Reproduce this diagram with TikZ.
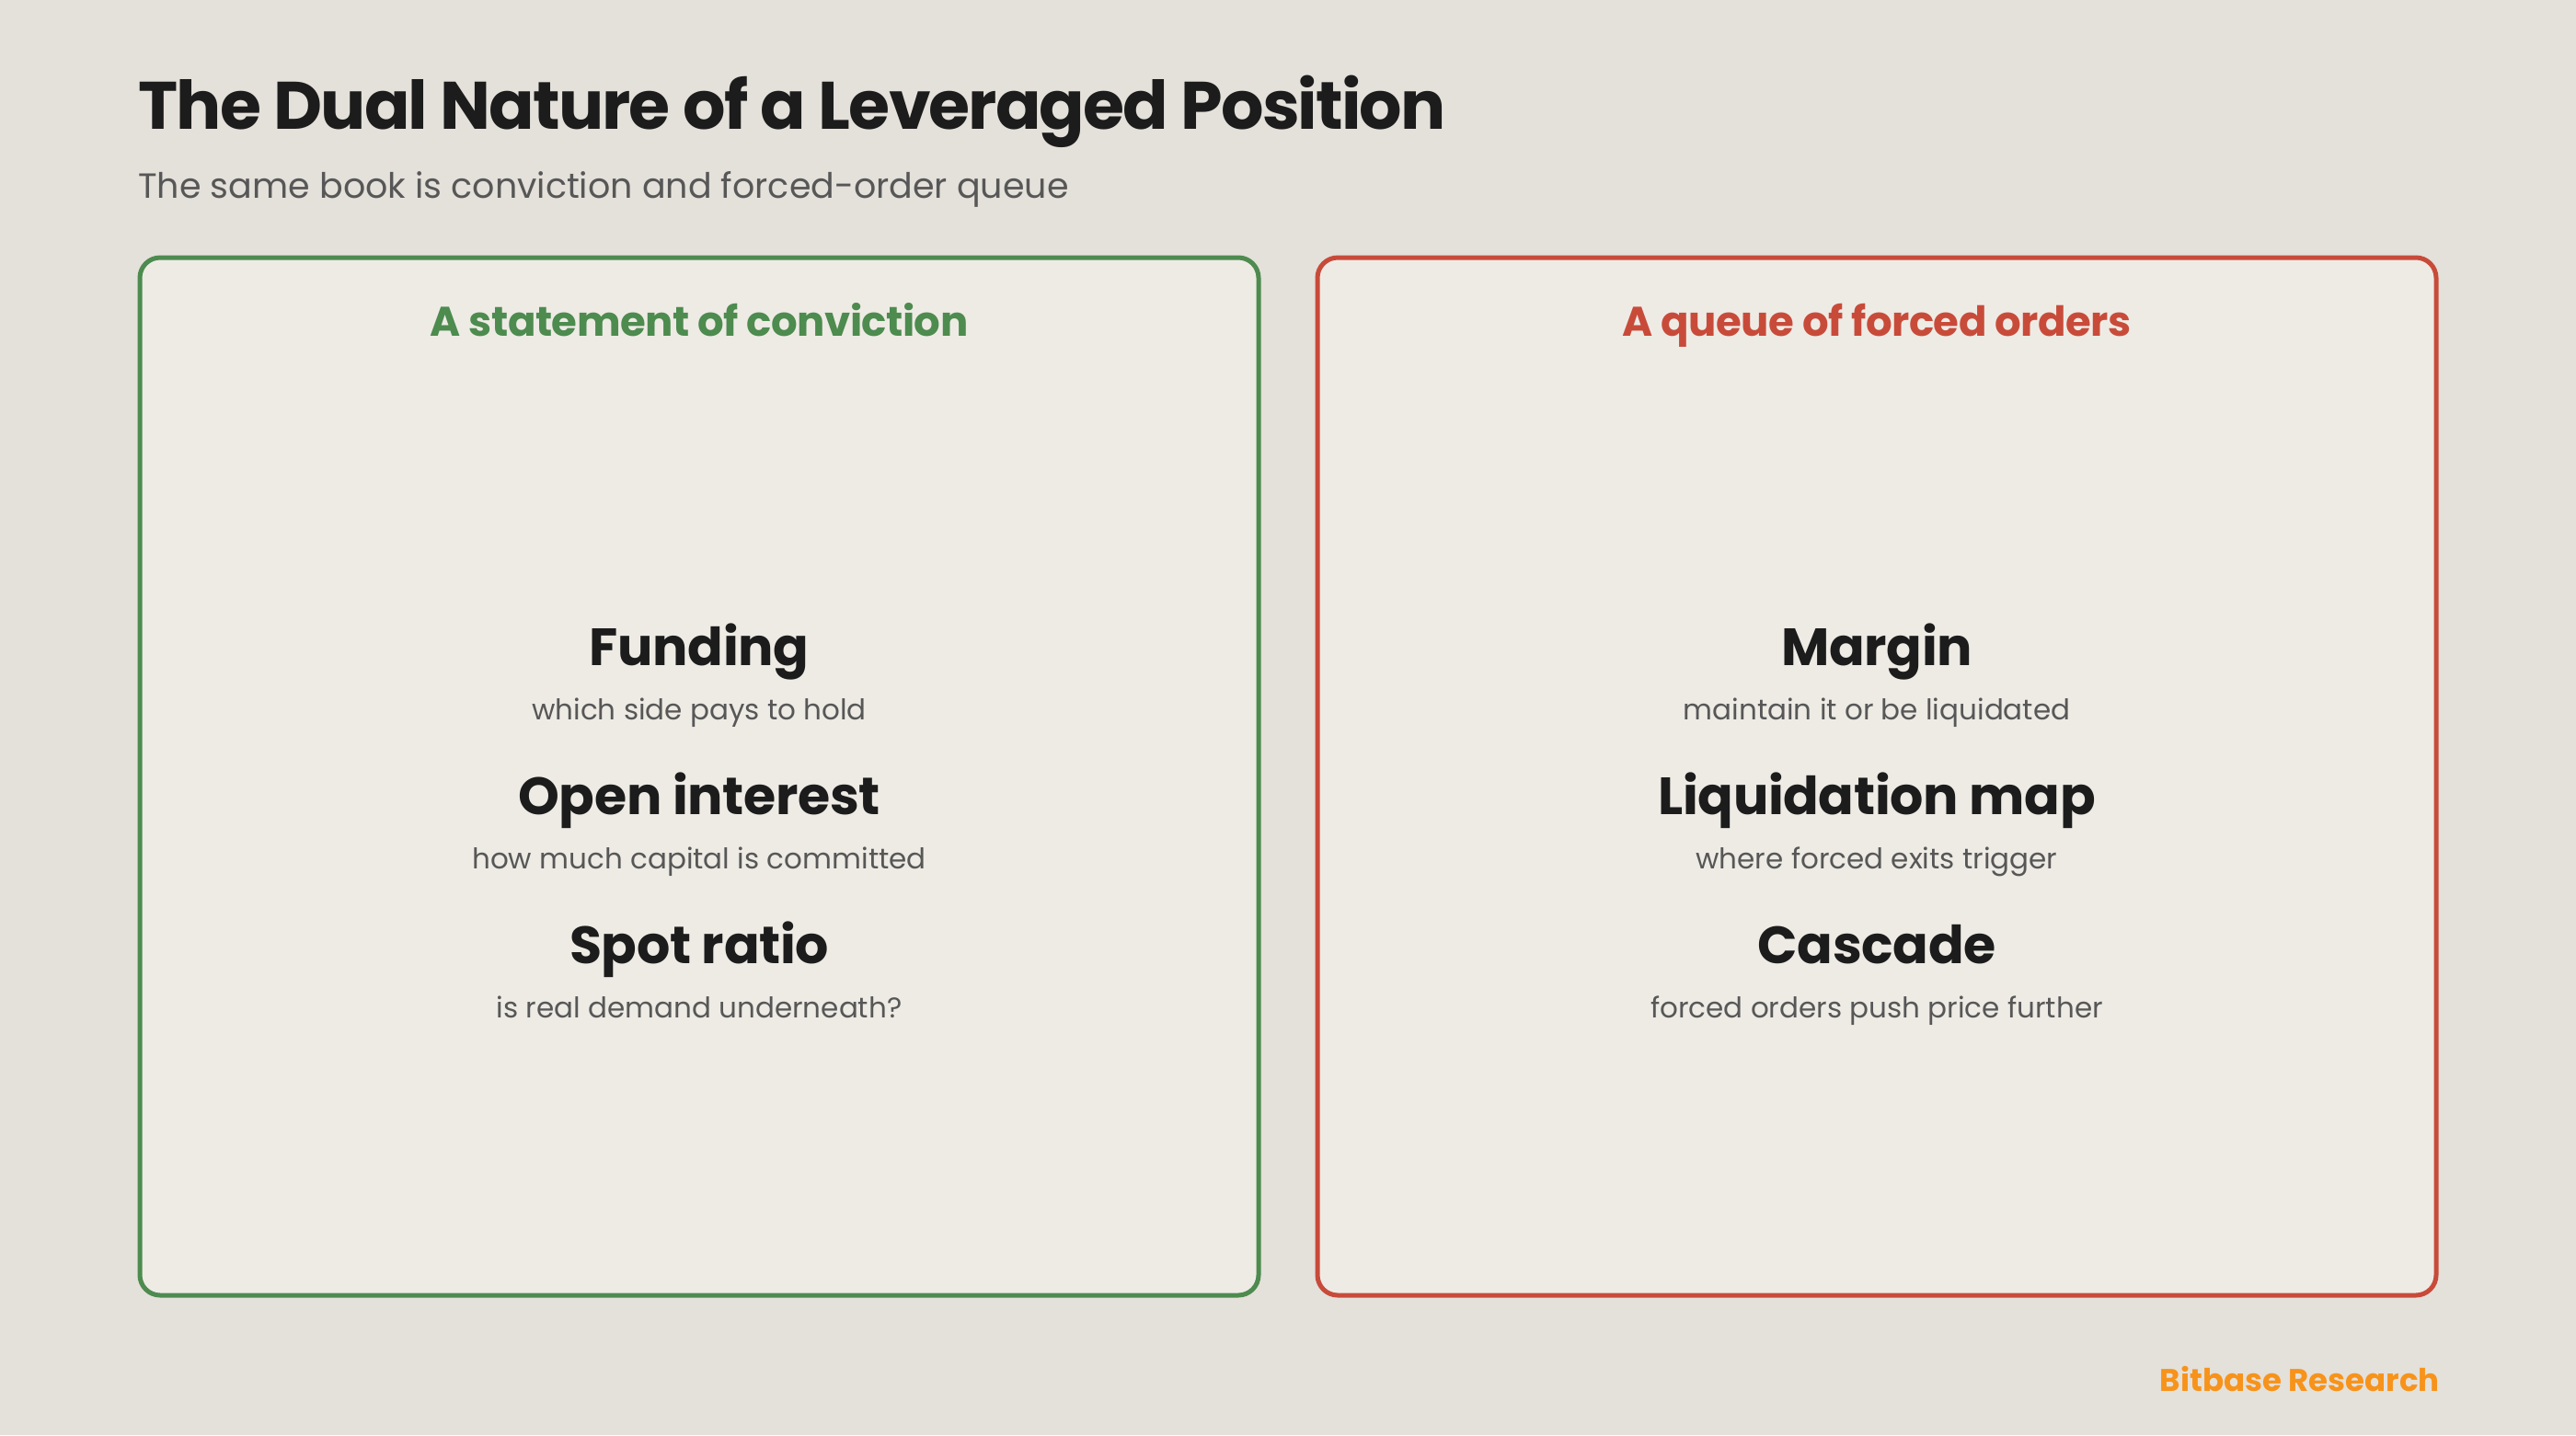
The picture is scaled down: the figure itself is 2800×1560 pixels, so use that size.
\documentclass[tikz,border=0pt]{standalone}
\usepackage{fontspec}
\setmainfont{Poppins}
\definecolor{bgc}{HTML}{E4E0DA}
\definecolor{panelc}{HTML}{EEEBE5}
\definecolor{greenc}{HTML}{4D8B4F}
\definecolor{redc}{HTML}{C84B3A}
\definecolor{orangec}{HTML}{F7931A}
\definecolor{darkc}{HTML}{1C1C1C}
\definecolor{grayc}{HTML}{575757}
\tikzset{
  panel/.style={draw=#1, line width=2.5pt, fill=panelc, rounded corners=11pt},
  heading/.style={anchor=base, font=\fontsize{22.5}{27}\selectfont\bfseries\addfontfeatures{LetterSpace=-1.2}, text=#1, inner sep=0pt},
  item/.style={anchor=base, font=\fontsize{28.5}{34}\selectfont\bfseries\addfontfeatures{LetterSpace=-0.6}, text=darkc, inner sep=0pt},
  itemsub/.style={anchor=base, font=\fontsize{15.5}{19}\selectfont, text=grayc, inner sep=0pt},
}
\begin{document}
\begin{tikzpicture}[x=0.5pt, y=-0.5pt]
\fill[bgc] (0,0) rectangle (2800,1560);
\useasboundingbox (0,0) rectangle (2800,1560);
\node[anchor=base west, inner sep=0pt, font=\fontsize{36.5}{44}\selectfont\bfseries\addfontfeatures{LetterSpace=-2.6}, text=darkc] (title) at (150,140) {The Dual Nature of a Leveraged Position};
\node[anchor=base west, inner sep=0pt, font=\fontsize{19}{23}\selectfont, text=grayc] (subtitle) at (150,215) {The same book is conviction and forced-order queue};
% panels
\draw[panel=greenc] (152,280) rectangle (1368,1408);
\draw[panel=redc] (1432,280) rectangle (2648,1408);
\node[heading=greenc] (lh) at (760,365) {A statement of conviction};
\node[heading=redc] (rh) at (2040,365) {A queue of forced orders};
% left items
\node[item] (l1) at (760,723) {Funding};
\node[itemsub] (l1s) at (760,782) {which side pays to hold};
\node[item] (l2) at (760,885) {Open interest};
\node[itemsub] (l2s) at (760,944) {how much capital is committed};
\node[item] (l3) at (760,1047) {Spot ratio};
\node[itemsub] (l3s) at (760,1106) {is real demand underneath?};
% right items
\node[item] (r1) at (2040,723) {Margin};
\node[itemsub] (r1s) at (2040,782) {maintain it or be liquidated};
\node[item] (r2) at (2040,885) {Liquidation map};
\node[itemsub] (r2s) at (2040,944) {where forced exits trigger};
\node[item] (r3) at (2040,1047) {Cascade};
\node[itemsub] (r3s) at (2040,1106) {forced orders push price further};
% footer
\node[anchor=base east, inner sep=0pt, font=\fontsize{17}{20}\selectfont\bfseries, text=orangec] (footer) at (2652,1512) {Bitbase Research};
\end{tikzpicture}
\end{document}
